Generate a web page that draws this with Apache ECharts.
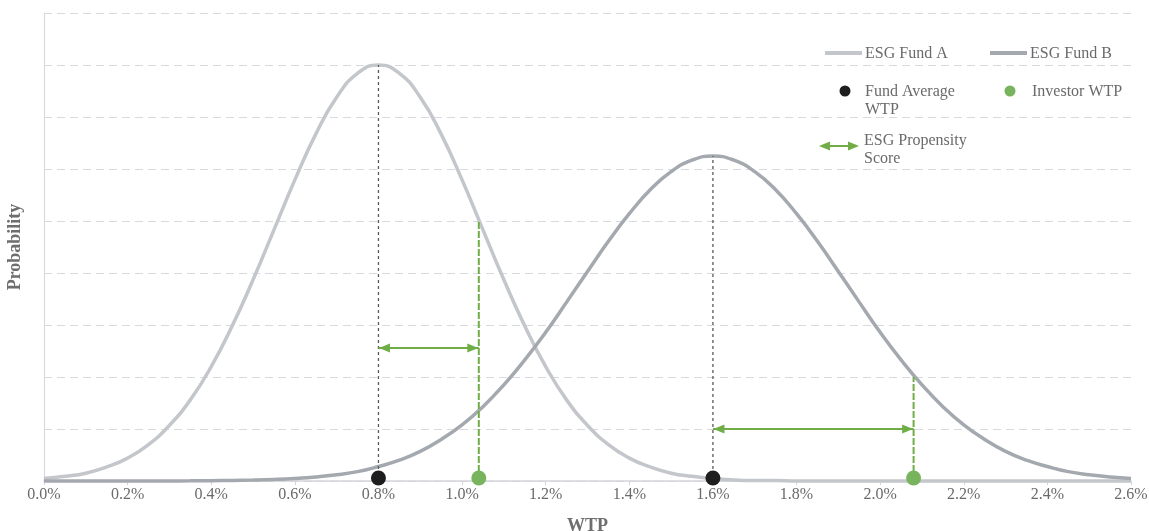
<!DOCTYPE html>
<html>
<head>
<meta charset="utf-8">
<script src="https://cdn.jsdelivr.net/npm/echarts@6/dist/echarts.min.js"></script>
<style>
html,body{margin:0;padding:0;background:#fff;}
#chart{width:1149px;height:531px;}
</style>
</head>
<body>
<div id="chart"></div>
<script>
// WTP grid (x values, % )
const wtp = [0.00,0.05,0.10,0.15,0.20,0.25,0.30,0.35,0.40,0.45,0.50,0.55,0.60,0.65,0.70,0.75,0.80,0.85,0.90,0.95,
  1.00,1.05,1.10,1.15,1.20,1.25,1.30,1.35,1.40,1.45,1.50,1.55,1.60,1.65,1.70,1.75,1.80,1.85,1.90,1.95,
  2.00,2.05,2.10,2.15,2.20,2.25,2.30,2.35,2.40,2.45,2.50,2.55,2.60];
// Probability
const fundA = [0.05,0.09,0.15,0.27,0.44,0.70,1.07,1.56,2.20,2.98,3.87,4.83,5.79,6.67,7.38,7.84,8.00,7.84,7.38,6.67,
  5.79,4.83,3.87,2.98,2.20,1.56,1.07,0.70,0.44,0.27,0.15,0.09,0.05,0.02,0.01,0.01,0,0,0,0,
  0,0,0,0,0,0,0,0,0,0,0,0,0];
const fundB = [0,0,0,0,0,0.001,0.002,0.003,0.006,0.01,0.017,0.029,0.048,0.077,0.12,0.18,0.28,0.40,0.57,0.80,
  1.08,1.43,1.85,2.33,2.86,3.44,4.03,4.61,5.14,5.60,5.95,6.17,6.25,6.17,5.95,5.60,5.14,4.61,4.03,3.44,
  2.86,2.33,1.85,1.43,1.08,0.80,0.57,0.40,0.28,0.18,0.12,0.077,0.048];
// Fund averages and their curve heights
const fundAvgWTP = [0.8, 1.6];
const fundAvgHeight = [8.00, 6.25];
// Investor WTP and curve heights at those points
const investorWTP = [1.04, 2.08];
const investorHeight = [5.0, 2.0];
// Propensity arrows: level on the y scale
const arrowLevel = [2.56, 1.0];
const xTicks = {min: 0, max: 2.6, interval: 0.2};

const colA = '#c3c6cb', colB = '#a4a9b0', green = '#70ad47', greenDot = '#78b45e', dark = '#1e1e1e';
const serif = '"Liberation Serif", "Times New Roman", serif';
const txtCol = '#6a6a6a';

const chart = echarts.init(document.getElementById('chart'), null, {renderer: 'canvas'});

const series = [
  {name: 'ESG Fund A', type: 'line', data: wtp.map((x, i) => [x, fundA[i]]), smooth: true, showSymbol: false, symbol: 'none',
   clip: false, lineStyle: {color: colA, width: 3.5}, z: 2},
  {name: 'ESG Fund B', type: 'line', data: wtp.map((x, i) => [x, fundB[i]]), smooth: true, showSymbol: false, symbol: 'none',
   clip: false, lineStyle: {color: colB, width: 3.5}, z: 3}
];
fundAvgWTP.forEach((x, i) => {
  series.push({type: 'line', data: [[x, 0], [x, fundAvgHeight[i]]], symbol: 'none', clip: false,
    lineStyle: {color: '#5a5a5a', width: 1.3, type: [3, 3]}, z: 4});
});
investorWTP.forEach((x, i) => {
  series.push({type: 'line', data: [[x, 0], [x, investorHeight[i]]], symbol: 'none', clip: false,
    lineStyle: {color: green, width: 2, type: [7, 2]}, z: 5});
  series.push({type: 'line', data: [], symbol: 'none',
    markLine: {silent: true, symbol: ['triangle', 'triangle'], symbolSize: [9, 11], symbolOffset: [[0, 6], [0, 6]],
      label: {show: false},
      lineStyle: {color: green, width: 2, type: 'solid'},
      data: [[{coord: [fundAvgWTP[i], arrowLevel[i]]}, {coord: [x, arrowLevel[i]]}]]}, z: 6});
});
series.push({type: 'scatter', data: fundAvgWTP.map(x => [x, 0]), symbolSize: 15, symbolOffset: [0, -3], clip: false,
  itemStyle: {color: dark, opacity: 1}, z: 8});
series.push({type: 'scatter', data: investorWTP.map(x => [x, 0]), symbolSize: 15, symbolOffset: [0, -3], clip: false,
  itemStyle: {color: greenDot, opacity: 1}, z: 8});

const lg = (t, x, y) => ({type: 'text', left: x, top: y, style: {text: t, font: '16px ' + serif, fill: txtCol}});
const graphic = [
  {type: 'line', shape: {x1: 825, y1: 53, x2: 862, y2: 53}, style: {stroke: colA, lineWidth: 4}},
  lg('ESG Fund A', 865, 46),
  {type: 'line', shape: {x1: 990, y1: 53, x2: 1027, y2: 53}, style: {stroke: colB, lineWidth: 4}},
  lg('ESG Fund B', 1030, 46),
  {type: 'circle', shape: {cx: 845, cy: 91, r: 5.5}, style: {fill: dark}},
  lg('Fund Average', 865, 84),
  lg('WTP', 865, 102),
  {type: 'circle', shape: {cx: 1010, cy: 91, r: 5.5}, style: {fill: greenDot}},
  lg('Investor WTP', 1032, 84),
  {type: 'line', shape: {x1: 826, y1: 146, x2: 852, y2: 146}, style: {stroke: green, lineWidth: 2}},
  {type: 'polygon', shape: {points: [[819, 146], [830, 141.5], [830, 150.5]]}, style: {fill: green}},
  {type: 'polygon', shape: {points: [[859, 146], [848, 141.5], [848, 150.5]]}, style: {fill: green}},
  lg('ESG Propensity', 864, 133),
  lg('Score', 864, 151)
];

chart.setOption({
  animation: false,
  backgroundColor: '#fff',
  grid: {left: 44, right: 18, top: 13, bottom: 50, containLabel: false, outerBoundsMode: 'none'},
  xAxis: {
    type: 'value', min: xTicks.min, max: xTicks.max, interval: xTicks.interval,
    name: 'WTP', nameLocation: 'middle', nameGap: 36,
    nameTextStyle: {fontFamily: serif, fontWeight: 'bold', fontSize: 18, color: '#6e6e6e'},
    axisLine: {show: true, lineStyle: {color: '#d3d5d9', width: 1.5}},
    axisTick: {show: true, length: 4, lineStyle: {color: '#d3d5d9'}},
    axisLabel: {fontFamily: serif, fontSize: 16, color: txtCol, margin: 6,
      formatter: v => v.toFixed(1) + '%'},
    splitLine: {show: false}
  },
  yAxis: {
    type: 'value', min: 0, max: 9, interval: 1,
    name: 'Probability', nameLocation: 'middle', nameGap: 20,
    nameTextStyle: {fontFamily: serif, fontWeight: 'bold', fontSize: 18, color: '#6e6e6e'},
    axisLine: {show: true, lineStyle: {color: '#d9dadd', width: 1.2}},
    axisTick: {show: false},
    axisLabel: {show: false},
    splitLine: {show: true, lineStyle: {color: '#d9d9e1', width: 1.2, type: [8, 5]}}
  },
  series: series,
  graphic: graphic
});
</script>
</body>
</html>
